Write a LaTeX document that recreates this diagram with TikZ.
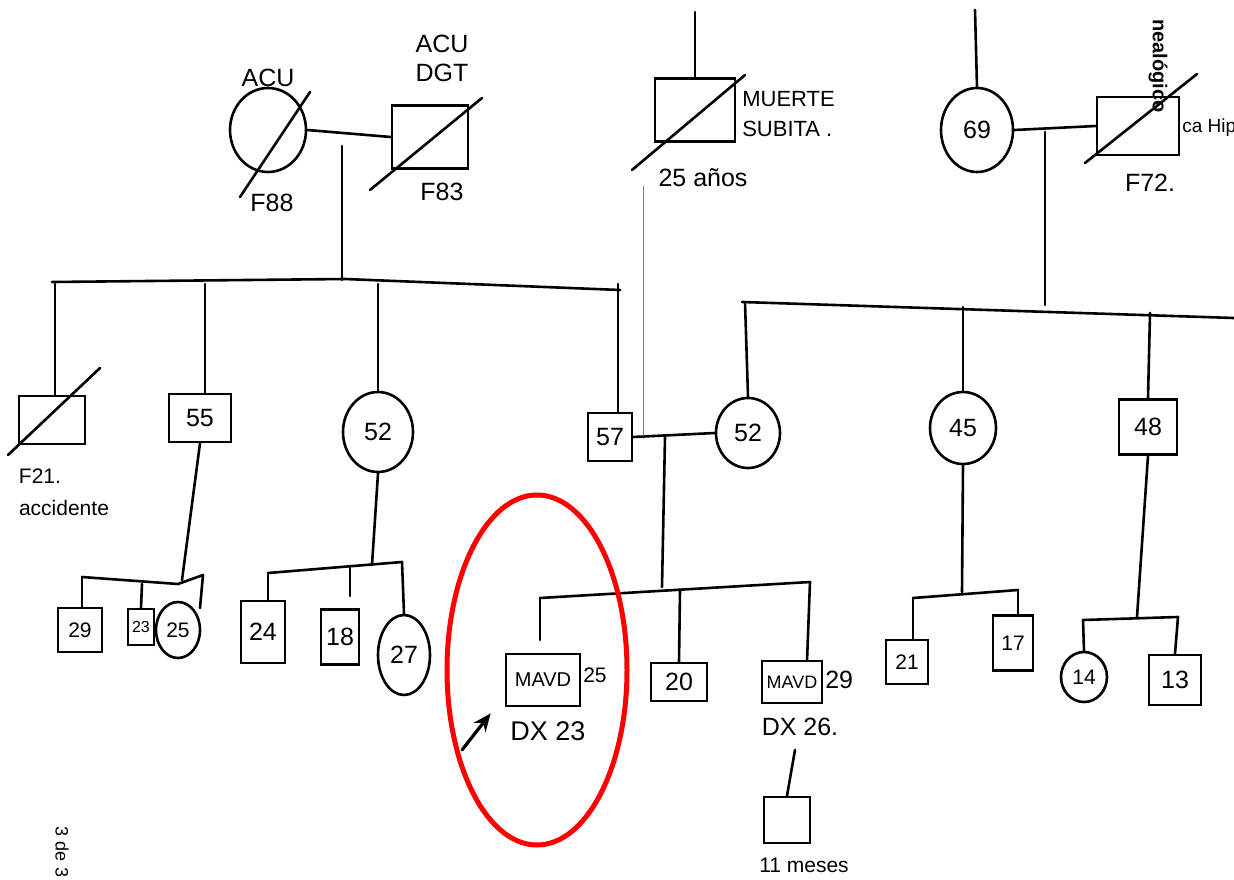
\documentclass[tikz,border=0pt]{standalone}
\usepackage{fontspec}
\setmainfont{Liberation Sans}
\usetikzlibrary{positioning, arrows.meta, calc, shapes.geometric}

\begin{document}
\begin{tikzpicture}[
  x=1pt, y=-1pt, line width=2.6pt, line cap=round,
  font=\fontsize{25}{29}\selectfont, >={Stealth[length=18pt, width=15pt]},
  male/.style={draw, rectangle, inner sep=0pt},
  female/.style={draw, ellipse, inner sep=0pt},
  lbl/.style={inner sep=1pt, align=center},
  small/.style={font=\fontsize{16}{19}\selectfont},
  mid/.style={font=\fontsize{21}{25}\selectfont},
  big/.style={font=\fontsize{27}{31}\selectfont},
]
  \useasboundingbox (0,0) rectangle (1234,880);

  % generation I
  \node[female, minimum width=76, minimum height=84] (acu) at (268,130) {};
  \node[male, minimum width=76, minimum height=63] (dgt) at (430,137) {};
  \draw (240,197) -- (310,92);
  \draw (370,190) -- (482,98);
  \node[lbl] (acuT) at (268,78) {ACU};
  \node[lbl] (dgtT) at (442,58) {ACU\\DGT};
  \node[lbl] (f88) at (272,203) {F88};
  \node[lbl] (f83) at (442,192) {F83};
  \draw (acu.east) -- (dgt.west);
  \coordinate (pA) at (342,146);

  \node[male, minimum width=80, minimum height=63] (ms) at (695,110) {};
  \draw (632,170) -- (745,75);
  \coordinate (topM) at (695,12);
  \draw (topM) -- (ms.north);
  \node[lbl, anchor=west, align=left, font=\fontsize{22}{30}\selectfont] (msT) at (740,114) {MUERTE\\SUBITA .};
  \node[lbl] (ms25) at (703,178) {25 años};

  \node[female, minimum width=72, minimum height=84] (c69) at (977,130) {69};
  \node[male, minimum width=82, minimum height=58] (ch) at (1138,126) {};
  \draw (1085,163) -- (1197,74);
  \coordinate (top69) at (975,10);
  \draw (top69) -- (c69.north);
  \node[lbl, anchor=west, font=\fontsize{19}{22}\selectfont] (chT) at (1180,128) {ca Hip};
  \node[lbl] (f72) at (1150,183) {F72.};
  \draw (c69.east) -- (ch.west);
  \coordinate (pB) at (1045,132);

  % generation II
  \coordinate (sA1) at (52,282);
  \coordinate (sA2) at (620,290);
  \draw (pA) -- (pA |- 0,280);
  \draw (sA1) -- (345,279) -- (sA2);
  \node[male, minimum width=66, minimum height=48] (f21) at (52,420) {};
  \draw (8,455) -- (100,368);
  \node[lbl, mid] (f21T) at (40,476) {F21.};
  \node[lbl, mid] (f21A) at (64,508) {accidente};
  \node[male, minimum width=62, minimum height=48] (s55) at (200,418) {55};
  \node[female, minimum width=70, minimum height=80] (c52a) at (378,432) {52};
  \node[male, minimum width=44, minimum height=48] (s57) at (610,437) {57};
  \foreach \n/\x in {f21/55, s55/205, c52a/378, s57/618}
    \draw (\x,284) -- (\n.north -| \x,0);

  \coordinate (sB1) at (742,302);
  \coordinate (sB2) at (1234,318);
  \draw (pB) -- (pB |- 0,305);
  \draw (sB1) -- (sB2);
  \node[female, minimum width=64, minimum height=70] (c52b) at (748,433) {52};
  \node[female, minimum width=66, minimum height=72] (c45) at (963,428) {45};
  \node[male, minimum width=58, minimum height=55] (s48) at (1148,427) {48};
  \draw (745,302) -- (c52b.north);
  \draw (963,307) -- (c45.north);
  \draw (1150,313) -- (s48.north);

  \draw (s57.east) -- (c52b.west);
  \coordinate (msDrop) at (643,186);
  \draw[gray, line width=0.8pt] (msDrop) -- (643,436);
  \coordinate (pC) at (665,437);

  % generation III
  \coordinate (sC1) at (82,577);
  \coordinate (sC2) at (203,575);
  \draw (s55.south) -- (182,580);
  \draw (sC1) -- (178,584) -- (sC2);
  \node[male, minimum width=44, minimum height=44, mid] (s29) at (80,630) {29};
  \node[male, minimum width=26, minimum height=36, small] (s23) at (141,627) {23};
  \node[female, minimum width=44, minimum height=56, mid] (c25) at (178,630) {25};
  \draw (sC1) -- (s29.north -| sC1);
  \draw (142,584) -- (s23.north);
  \draw (sC2) -- (200,608);

  \coordinate (sD1) at (268,573);
  \coordinate (sD2) at (402,562);
  \draw (c52a.south) -- (372,565);
  \draw (sD1) -- (sD2);
  \node[male, minimum width=44, minimum height=62] (s24) at (263,632) {24};
  \node[male, minimum width=38, minimum height=55] (s18) at (340,637) {18};
  \node[female, minimum width=52, minimum height=80] (c27) at (404,655) {27};
  \draw (sD1) -- (268,601);
  \draw (350,566) -- (350,596);
  \draw (sD2) -- (c27.north);

  \coordinate (sE1) at (540,598);
  \coordinate (sE2) at (810,582);
  \draw (pC) -- (662,587);
  \draw (sE1) -- (sE2);
  \node[male, minimum width=74, minimum height=52, font=\fontsize{20}{24}\selectfont] (p1) at (543,680) {MAVD};
  \node[male, minimum width=56, minimum height=38] (s20) at (679,682) {20};
  \node[male, minimum width=60, minimum height=42, font=\fontsize{18}{21}\selectfont] (p2) at (792,682) {MAVD};
  \draw (sE1) -- (540,640);
  \draw (680,590) -- (s20.north);
  \draw (sE2) -- (807,661);
  \node[lbl, anchor=west, mid] (p1age) at (581,675) {25};
  \node[lbl, anchor=west] (p2age) at (823,680) {29};
  \node[lbl, big] (p1dx) at (548,731) {DX 23};
  \node[lbl] (p2dx) at (800,727) {DX 26.};
  \coordinate (arrT) at (462,750);
  \draw[->, line width=3.2pt] (arrT) -- ($(p1.south west)+(-14,6)$);
  \node[male, minimum width=46, minimum height=46] (baby) at (787,820) {};
  \draw (795,750) -- (baby.north);
  \node[lbl, mid] (babyT) at (804,865) {11 meses};

  \coordinate (sF1) at (913,598);
  \coordinate (sF2) at (1018,590);
  \draw (c45.south) -- (962,592);
  \draw (sF1) -- (sF2);
  \node[male, minimum width=42, minimum height=44, mid] (s21) at (907,662) {21};
  \node[male, minimum width=40, minimum height=55, mid] (s17) at (1013,643) {17};
  \draw (sF1) -- (s21.north -| sF1);
  \draw (sF2) -- (s17.north -| sF2);

  \coordinate (sG1) at (1083,620);
  \coordinate (sG2) at (1178,617);
  \draw (s48.south) -- (1137,617);
  \draw (sG1) -- (sG2);
  \node[female, minimum width=46, minimum height=50, mid] (c14) at (1084,677) {14};
  \node[male, minimum width=52, minimum height=50] (s13) at (1175,680) {13};
  \draw (sG1) -- (c14.north);
  \draw (sG2) -- (s13.north);

  % proband mark and page remains
  \draw[red, line width=5pt] (537,670) ellipse [x radius=90, y radius=175];
  \node[rotate=-90, font=\fontsize{20}{24}\selectfont\bfseries] (pageT) at (1158,66) {nealógico};
  \node[rotate=-90, font=\fontsize{18}{21}\selectfont] (pageN) at (62,852) {3 de 3};
\end{tikzpicture}
\end{document}
